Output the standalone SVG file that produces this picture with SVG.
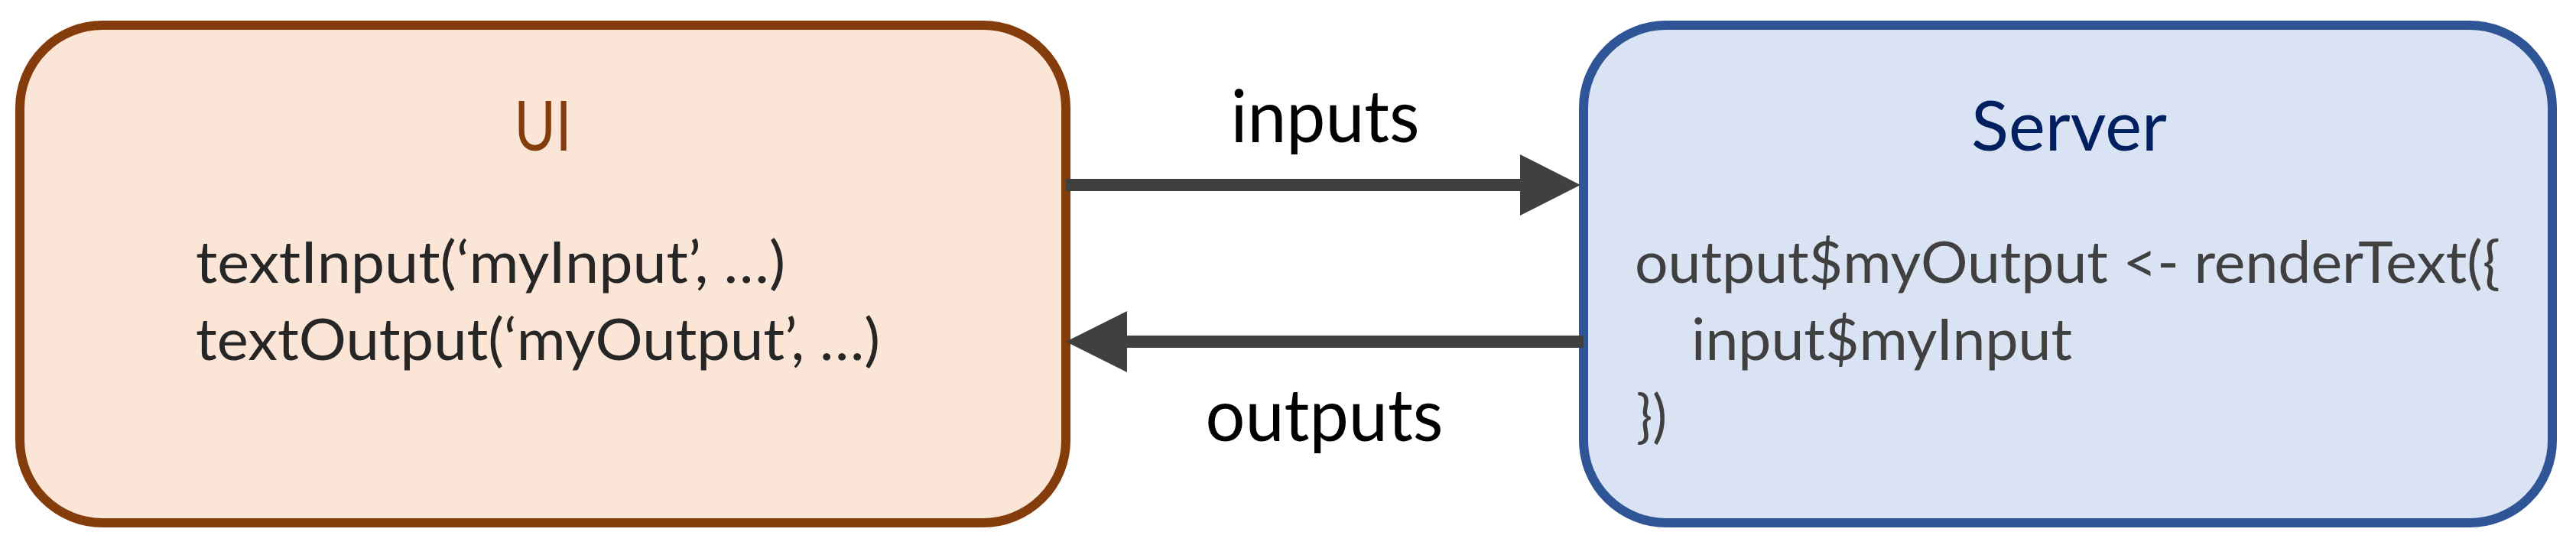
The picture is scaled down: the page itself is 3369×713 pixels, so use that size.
<svg xmlns="http://www.w3.org/2000/svg" width="3369" height="713" viewBox="0 0 3369 713">
<style>
  .t { font-family: Lato, "Liberation Sans", sans-serif; }
  .title { font-size: 92px; text-anchor: middle; }
  .body { font-size: 75px; }
  .lbl { font-size: 95px; fill: #000000; text-anchor: middle; }
  .conn { stroke: #404040; stroke-width: 16; fill: none; }
  .head { fill: #404040; }
</style>
<rect width="3369" height="713" fill="#ffffff"/>
<g id="ui">
  <rect x="26" y="33" width="1368" height="651" rx="108" ry="108" fill="#FBE5D6" stroke="#843C0C" stroke-width="12"/>
  <text class="t title" x="710" y="197" fill="#843C0C" textLength="75" lengthAdjust="spacingAndGlyphs">UI</text>
  <text class="t body" x="256" y="370" fill="#262626" textLength="771" lengthAdjust="spacingAndGlyphs">textInput(‘myInput’, …)</text>
  <text class="t body" x="256" y="471" fill="#262626" textLength="895" lengthAdjust="spacingAndGlyphs">textOutput(‘myOutput’, …)</text>
</g>
<g id="server">
  <rect x="2071" y="33" width="1267" height="651" rx="108" ry="108" fill="#DAE3F3" stroke="#2F5597" stroke-width="12"/>
  <text class="t title" x="2706" y="197" fill="#002060" textLength="256" lengthAdjust="spacingAndGlyphs">Server</text>
  <text class="t body" x="2138" y="370" fill="#404040" textLength="1132" lengthAdjust="spacingAndGlyphs">output$myOutput &lt;- renderText({</text>
  <text class="t body" x="2212" y="471" fill="#404040" textLength="498" lengthAdjust="spacingAndGlyphs">input$myInput</text>
  <text class="t body" x="2140" y="571" fill="#404040" textLength="40" lengthAdjust="spacingAndGlyphs">})</text>
</g>
<g id="connectors">
  <g id="inputs-arrow">
    <line class="conn" x1="1394" y1="242" x2="1990" y2="242"/>
    <polygon class="head" points="1988,202 2067,242 1988,282"/>
    <text class="t lbl" x="1733" y="186" textLength="247" lengthAdjust="spacingAndGlyphs">inputs</text>
  </g>
  <g id="outputs-arrow">
    <line class="conn" x1="2071" y1="447" x2="1472" y2="447"/>
    <polygon class="head" points="1474,407 1394,447 1474,487"/>
    <text class="t lbl" x="1732" y="577" textLength="311" lengthAdjust="spacingAndGlyphs">outputs</text>
  </g>
</g>
</svg>
